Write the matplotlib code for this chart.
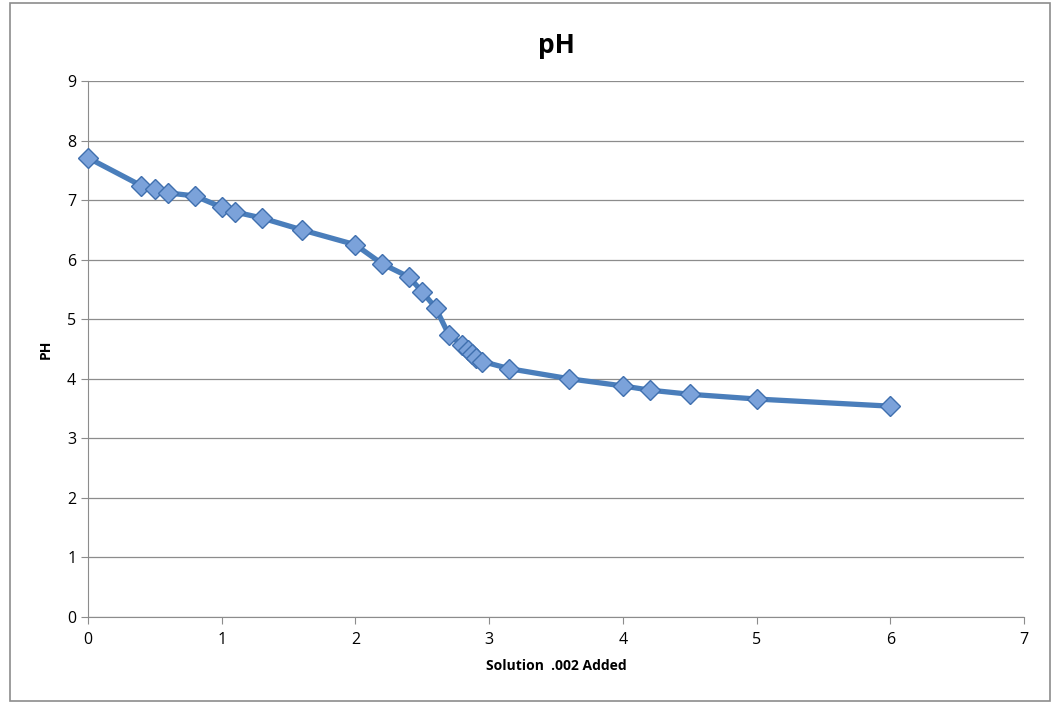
import matplotlib.pyplot as plt
from matplotlib.patches import Rectangle

x_added = [0, 0.4, 0.5, 0.6, 0.8, 1.0, 1.1, 1.3, 1.6, 2.0, 2.2, 2.4, 2.5, 2.6,
           2.7, 2.8, 2.84, 2.87, 2.9, 2.95, 3.15, 3.6, 4.0, 4.2, 4.5, 5.0, 6.0]
ph = [7.71, 7.24, 7.18, 7.12, 7.07, 6.88, 6.80, 6.70, 6.50, 6.25, 5.93, 5.71, 5.46, 5.19,
      4.73, 4.57, 4.48, 4.42, 4.35, 4.29, 4.17, 4.00, 3.88, 3.81, 3.74, 3.66, 3.54]

plt.rcParams['font.family'] = ['Open Sans', 'DejaVu Sans']

fig = plt.figure(figsize=(10.6, 7.04), dpi=100)
ax = fig.add_axes([88/1060, 1-617/704, (1024-88)/1060, (617-81)/704])

ax.plot(x_added, ph, color='#4A7EBB', lw=3.8, marker='D', markersize=10.5,
        markerfacecolor='#7BA2DA', markeredgecolor='#3F6FAE', markeredgewidth=1.0,
        solid_joinstyle='round', clip_on=False, zorder=3)

ax.set_xlim(0, 7)
ax.set_ylim(0, 9)
ax.set_xticks(range(0, 8))
ax.set_yticks(range(0, 10))
ax.grid(axis='y', color='#8C8C8C', lw=0.9)
ax.set_axisbelow(True)
for s in ['top', 'right']:
    ax.spines[s].set_visible(False)
for s in ['left', 'bottom']:
    ax.spines[s].set_color('#8C8C8C')
ax.tick_params(colors='#8C8C8C', labelcolor='black', labelsize=11.5, length=5)
ax.tick_params(axis='x', pad=6)

ax.set_title('pH', fontsize=19, fontweight='bold', pad=20)
ax.set_xlabel('Solution  .002 Added', fontsize=10, fontweight='bold', labelpad=8)
ax.set_ylabel('PH', fontsize=10, fontweight='bold', labelpad=10)

fig.patches.append(Rectangle((10/1060, 3/704), 1040/1060, 698/704, transform=fig.transFigure,
                             fill=False, edgecolor='#8C8C8C', lw=1.2))

fig.savefig('out.png', dpi=100)
